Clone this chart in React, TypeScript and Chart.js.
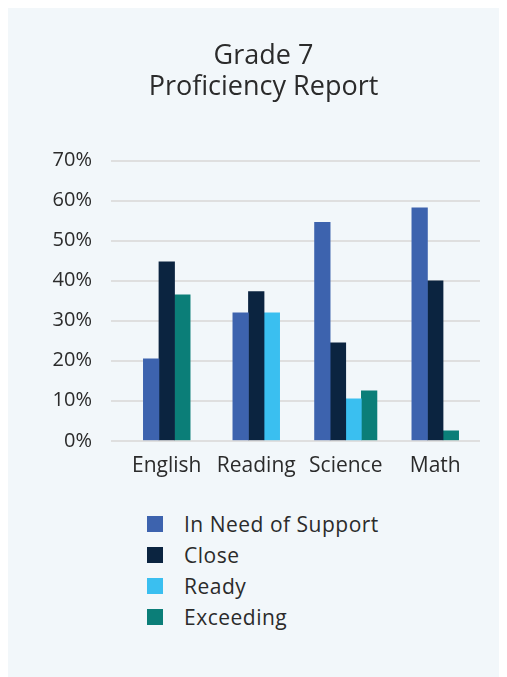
import React, { useEffect, useRef } from "react";
import { Chart, registerables } from "chart.js";

Chart.register(...registerables);

const categories = ["English", "Reading", "Science", "Math"];
const seriesNames = ["In Need of Support", "Close", "Ready", "Exceeding"];
const inNeedOfSupport = [20.5, 32, 54.6, 58.2];
const close = [44.7, 37.3, 24.5, 40];
const ready = [null, 32, 10.5, null];
const exceeding = [36.5, null, 12.5, 2.5];
const seriesColors = ["#3d63ae", "#0b2440", "#3abff0", "#0b7e78"];
const titleLines = ["Grade 7", "Proficiency Report"];
const yTicks = [0, 10, 20, 30, 40, 50, 60, 70];

const FONT = "'Open Sans', 'Noto Sans', sans-serif";
const TEXT = "#2b2b2b";
const PANEL = "#f2f7fa";

const spacingPlugin = {
  id: "letterSpacing",
  beforeInit(chart: any) {
    try {
      chart.ctx.letterSpacing = "0.4px";
    } catch (e) {}
  },
};

export default function App() {
  const ref = useRef<HTMLCanvasElement | null>(null);

  useEffect(() => {
    document.body.style.overflow = "hidden";
    const canvas = ref.current;
    if (!canvas) return;
    const values = [inNeedOfSupport, close, ready, exceeding];
    const chart = new Chart(canvas, {
      type: "bar",
      data: {
        labels: categories,
        datasets: seriesNames.map((name, i) => ({
          label: name,
          data: values[i],
          backgroundColor: seriesColors[i],
          borderWidth: 0,
          barThickness: 15.6,
        })),
      },
      plugins: [spacingPlugin],
      options: {
        responsive: false,
        animation: false,
        skipNull: true,
        layout: { padding: { left: 39, right: 27, top: 0, bottom: 8 } },
        plugins: {
          legend: { display: false },
          tooltip: { enabled: false },
          title: {
            display: true,
            text: titleLines,
            color: TEXT,
            font: { family: FONT, size: 27, weight: "normal", lineHeight: 1.18 },
            padding: { top: 32, bottom: 57 },
          },
        },
        scales: {
          x: {
            grid: { display: false, drawTicks: false },
            border: { display: false },
            ticks: {
              color: TEXT,
              padding: 13,
              font: { family: FONT, size: 21 },
            },
          },
          y: {
            min: 0,
            max: 70,
            afterBuildTicks: (scale: any) => {
              scale.ticks = yTicks.map((v) => ({ value: v }));
            },
            afterFit: (scale: any) => {
              scale.width = 75;
            },
            grid: {
              color: "#dfdfdf",
              lineWidth: 2,
              drawTicks: true,
              tickLength: 11,
            },
            border: { display: false },
            ticks: {
              color: TEXT,
              padding: 19,
              font: { family: FONT, size: 20 },
              callback: (v: any) => v + "%",
            },
          },
        },
      } as any,
    });
    return () => chart.destroy();
  }, []);

  return (
    <div
      style={{
        position: "relative",
        width: 499,
        height: 669,
        background: PANEL,
        fontFamily: FONT,
        color: TEXT,
      }}
    >
      <canvas
        ref={ref}
        width={499}
        height={492}
        style={{ position: "absolute", left: 0, top: 0, width: 499, height: 492 }}
      />
      <div style={{ position: "absolute", left: 139, top: 500.5 }}>
        {seriesNames.map((name, i) => (
          <div
            key={name}
            style={{ display: "flex", alignItems: "center", height: 31 }}
          >
            <span
              style={{
                display: "inline-block",
                width: 16,
                height: 16,
                background: seriesColors[i],
                marginRight: 21,
              }}
            />
            <span style={{ fontSize: 21, lineHeight: "31px", letterSpacing: "0.5px" }}>
              {name}
            </span>
          </div>
        ))}
      </div>
    </div>
  );
}
